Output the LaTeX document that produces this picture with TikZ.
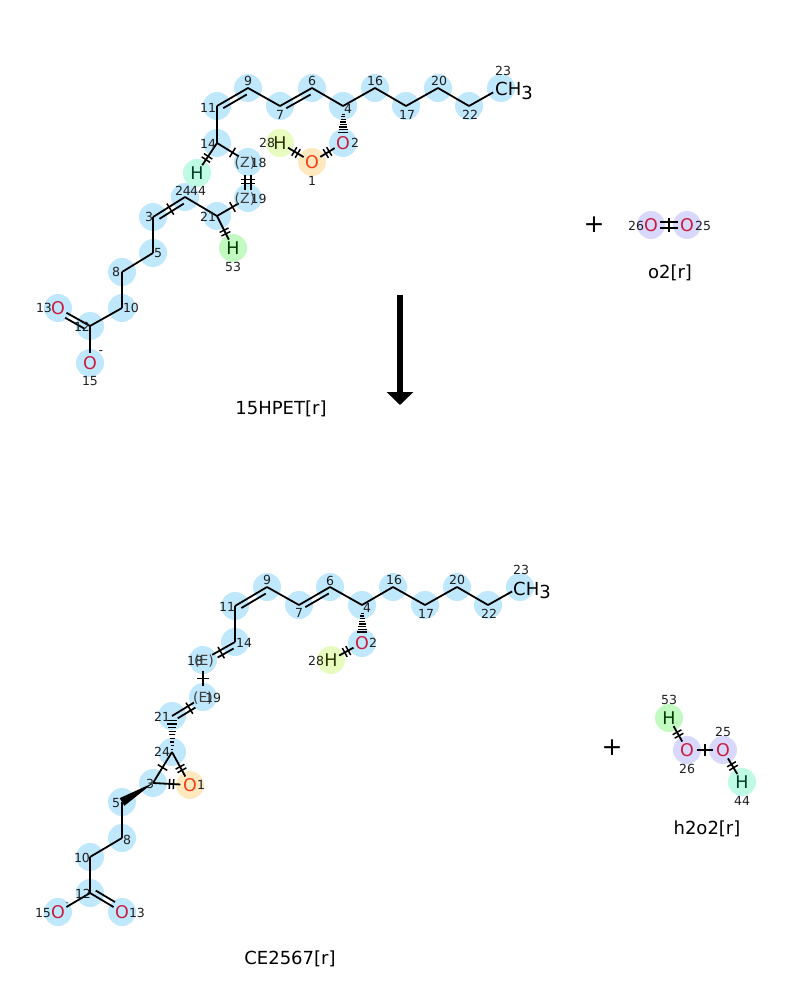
\documentclass[tikz,border=0pt]{standalone}
\usepackage{fontspec}
\setmainfont{DejaVu Sans}
\usetikzlibrary{calc,arrows.meta}
\pgfdeclarelayer{bg}
\pgfsetlayers{bg,main}
\definecolor{cb}{RGB}{192,232,252}
\definecolor{cor}{RGB}{253,232,192}
\definecolor{cyg}{RGB}{232,252,192}
\definecolor{cmint}{RGB}{190,250,228}
\definecolor{cgr}{RGB}{194,250,194}
\definecolor{clav}{RGB}{216,216,252}
\definecolor{tO}{RGB}{200,30,60}
\definecolor{tOo}{RGB}{250,60,20}
\definecolor{tHa}{RGB}{40,50,0}
\definecolor{tHb}{RGB}{0,60,40}
\definecolor{tHc}{RGB}{0,60,0}
\tikzset{
  bond/.style={line width=1.8pt, draw=black},
  tickl/.style={line width=1.5pt, draw=black},
  hashl/.style={line width=1.2pt, draw=black},
  num/.style={font=\fontsize{12.5}{12.5}\selectfont, inner sep=0pt, text=black!88},
  stereo/.style={font=\fontsize{14}{14}\selectfont, inner sep=0pt, text=black!75},
  het/.style={circle, inner sep=0pt, minimum size=16pt, font=\fontsize{17.5}{17.5}\selectfont},
  slot/.style={circle, inner sep=0pt, minimum size=21pt},
  ttl/.style={font=\fontsize{18}{18}\selectfont, inner sep=0pt},
  plussign/.style={font=\fontsize{25}{25}\selectfont, inner sep=0pt},
  methyl/.style={font=\fontsize{18}{18}\selectfont, inner sep=0pt, anchor=base west},
}
% second line of a double bond: a, b, offset, from, to
\newcommand{\dline}[5]{\draw[bond] ($(#1.center)!#4!(#2.center)!#3!90:(#2.center)$) -- ($(#1.center)!#5!(#2.center)!#3!90:(#2.center)$);}
% single tick: a, b, frac, lo, hi
\newcommand{\tk}[5]{\draw[tickl] ($(#1.center)!#3!(#2.center)!#4!90:(#2.center)$) -- ($(#1.center)!#3!(#2.center)!#5!90:(#2.center)$);}
% double tick
\newcommand{\tkk}[5]{%
  \draw[tickl] ($(#1.center)!#3!(#2.center)!2pt!(#2.center)!#4!90:(#2.center)$) -- ($(#1.center)!#3!(#2.center)!2pt!(#2.center)!#5!90:(#2.center)$);
  \draw[tickl] ($(#1.center)!#3!(#2.center)!-2pt!(#2.center)!#4!90:(#2.center)$) -- ($(#1.center)!#3!(#2.center)!-2pt!(#2.center)!#5!90:(#2.center)$);}
% hashed wedge, narrow at a, wide at b
\newcommand{\hashshort}[2]{\foreach \t/\w in {0.22/1.5pt,0.29/2pt,0.36/2.5pt,0.43/3pt,0.50/3.5pt,0.57/4pt,0.64/4.5pt,0.71/5pt}{\draw[hashl] ($(#1.center)!\t!(#2.center)!\w!90:(#2.center)$) -- ($(#1.center)!\t!(#2.center)!\w!-90:(#2.center)$);}}
\newcommand{\hashlong}[2]{\foreach \t/\w in {0.08/1pt,0.18/1.5pt,0.28/2pt,0.38/2.5pt,0.48/3pt,0.58/3.5pt,0.68/4pt,0.78/4.6pt,0.88/5.2pt}{\draw[hashl] ($(#1.center)!\t!(#2.center)!\w!90:(#2.center)$) -- ($(#1.center)!\t!(#2.center)!\w!-90:(#2.center)$);}}
\newcommand{\lab}[3]{\node[num] (#1) at (#2) {#3};}
\begin{document}
\begin{tikzpicture}[x=1pt,y=-1pt]
\useasboundingbox (0,0) rectangle (800,1000);
% ================= TOP MOLECULE (15HPET) =================
\coordinate (t3) at (153,217);
\coordinate (t4) at (343,106);
\coordinate (t5) at (153,253);
\coordinate (t6) at (312,88);
\coordinate (t7) at (280,106);
\coordinate (t8) at (122,272);
\coordinate (t9) at (248,88);
\coordinate (t10) at (122,308);
\coordinate (t11) at (217,106);
\coordinate (t12) at (90,326);
\coordinate (t14) at (217,143);
\coordinate (t16) at (375,88);
\coordinate (t17) at (406,106);
\coordinate (t20) at (438,88);
\coordinate (t21) at (217,216);
\coordinate (t22) at (469,106);
\coordinate (t23) at (501,88);
\coordinate (t24) at (185,197);
\node[het,text=tOo] (t1) at (312,162) {O};
\node[het,text=tO] (t2) at (343,143) {O};
\node[het,text=tO] (t13) at (58,308) {O};
\node[het,text=tO] (t15) at (90,363) {O};
\node[het,text=tHa] (t28) at (280,143) {H};
\node[het,text=tHb] (t44) at (197,173) {H};
\node[het,text=tHc] (t53) at (233,248) {H};
\node[slot] (t18) at (248,162) {};
\node[slot] (t19) at (248,198) {};
\node[methyl] (t23t) at (495,96) {CH\raisebox{-3.5pt}{3}};
% bonds
\draw[bond] (t11) -- (t9);
\dline{t11}{t9}{-5pt}{0.12}{0.88}
\draw[bond] (t9) -- (t7);
\draw[bond] (t7) -- (t6);
\dline{t7}{t6}{-5pt}{0.12}{0.88}
\draw[bond] (t6) -- (t4);
\draw[bond] (t4) -- (t16);
\draw[bond] (t16) -- (t17);
\draw[bond] (t17) -- (t20);
\draw[bond] (t20) -- (t22);
\draw[bond, shorten >=9pt] (t22) -- (t23);
\draw[bond] (t11) -- (t14);
\draw[bond] (t14) -- (t44);
\tkk{t14}{t44}{0.5}{-5pt}{5pt}
\draw[bond] (t14) -- (t18);
\tk{t14}{t18}{0.5}{-5.5pt}{5.5pt}
\dline{t18}{t19}{2.8pt}{0.35}{0.77}
\dline{t18}{t19}{-2.8pt}{0.35}{0.77}
\tkk{t18}{t19}{0.54}{-7pt}{7pt}
\draw[bond] (t19) -- (t21);
\tk{t19}{t21}{0.5}{-5.5pt}{5.5pt}
\draw[bond] (t21) -- (t53);
\tkk{t21}{t53}{0.5}{-5pt}{5pt}
\draw[bond] (t21) -- (t24);
\draw[bond] (t24) -- (t3);
\dline{t24}{t3}{5pt}{0.12}{0.88}
\tk{t24}{t3}{0.5}{-4pt}{9pt}
\draw[bond] (t3) -- (t5);
\draw[bond] (t5) -- (t8);
\draw[bond] (t8) -- (t10);
\draw[bond] (t10) -- (t12);
\draw[bond] (t12) -- (t13);
\dline{t12}{t13}{5pt}{0.1}{0.7}
\draw[bond] (t12) -- (t15);
\hashshort{t4}{t2}
\draw[bond] (t2) -- (t1);
\tkk{t2}{t1}{0.5}{-5pt}{5pt}
\draw[bond] (t28) -- (t1);
\tkk{t28}{t1}{0.5}{-5pt}{5pt}
% labels
\lab{lt9}{248,81}{9}
\lab{lt11}{208,108}{11}
\lab{lt7}{280,115}{7}
\lab{lt6}{312,81}{6}
\lab{lt4}{348,109}{4}
\lab{lt16}{375,81}{16}
\lab{lt17}{407,115}{17}
\lab{lt20}{439,81}{20}
\lab{lt22}{470,115}{22}
\lab{lt23}{503,71}{23}
\lab{lt14}{208,144}{14}
\lab{lt18}{258.5,163}{18}
\node[stereo] (zt18) at (245,163) {(Z)};
\lab{lt19}{258.5,199}{19}
\node[stereo] (zt19) at (245,199) {(Z)};
\lab{lt24}{183,191}{24}
\lab{lt44}{198,191}{44}
\lab{lt21}{208,217}{21}
\lab{lt3}{149,217}{3}
\lab{lt5}{158,253}{5}
\lab{lt8}{116,272}{8}
\lab{lt10}{131,308}{10}
\lab{lt12}{82,327}{12}
\lab{lt13}{44,308}{13}
\lab{lt15}{90,381}{15}
\lab{qt15}{101,353}{-}
\lab{lt53}{233,267}{53}
\lab{lt28}{267,143}{28}
\lab{lt1}{312,181}{1}
\lab{lt2}{355,143}{2}
% ================= O2 =================
\node[plussign] (plus1) at (594,225) {+};
\node[het,text=tO] (o26) at (651,225) {O};
\node[het,text=tO] (o25) at (687,225) {O};
\dline{o26}{o25}{3pt}{0.25}{0.75}
\dline{o26}{o25}{-3pt}{0.25}{0.75}
\tk{o26}{o25}{0.5}{-7pt}{7pt}
\lab{lo26}{636,226}{26}
\lab{lo25}{703,226}{25}
\node[ttl] (name2) at (670,273) {o2[r]};
% ================= ARROW =================
\coordinate (arS) at (400,295);
\coordinate (arE) at (400,405);
\draw[line width=6pt, -{Triangle[width=26pt,length=13pt]}] (arS) -- (arE);
\node[ttl] (name1) at (281,409) {15HPET[r]};
% ================= BOTTOM MOLECULE (CE2567) =================
\coordinate (b3) at (153,783);
\coordinate (b4) at (362,605);
\coordinate (b5) at (122,802);
\coordinate (b6) at (330,587);
\coordinate (b7) at (299,605);
\coordinate (b8) at (122,838);
\coordinate (b9) at (267,587);
\coordinate (b10) at (90,857);
\coordinate (b11) at (235,606);
\coordinate (b12) at (90,893);
\coordinate (b14) at (235,642);
\coordinate (b16) at (393,587);
\coordinate (b17) at (425,605);
\coordinate (b20) at (457,587);
\coordinate (b21) at (172,716);
\coordinate (b22) at (488,605);
\coordinate (b23) at (520,587);
\coordinate (b24) at (172,752);
\node[het,text=tOo] (b1) at (190,785) {O};
\node[het,text=tO] (b2) at (362,643) {O};
\node[het,text=tO] (b13) at (122,912) {O};
\node[het,text=tO] (b15) at (58,912) {O};
\node[het,text=tHa] (b28) at (331,660) {H};
\node[slot] (b18) at (203,660) {};
\node[slot] (b19) at (203,697) {};
\node[methyl] (b23t) at (513,595) {CH\raisebox{-3.5pt}{3}};
\draw[bond] (b11) -- (b9);
\dline{b11}{b9}{-5pt}{0.12}{0.88}
\draw[bond] (b9) -- (b7);
\draw[bond] (b7) -- (b6);
\dline{b7}{b6}{-5pt}{0.12}{0.88}
\draw[bond] (b6) -- (b4);
\draw[bond] (b4) -- (b16);
\draw[bond] (b16) -- (b17);
\draw[bond] (b17) -- (b20);
\draw[bond] (b20) -- (b22);
\draw[bond, shorten >=9pt] (b22) -- (b23);
\draw[bond] (b11) -- (b14);
\draw[bond] (b14) -- (b18);
\dline{b14}{b18}{5pt}{0.12}{0.62}
\tk{b14}{b18}{0.47}{-4pt}{9pt}
\draw[bond] (b18) -- (b19);
\tk{b18}{b19}{0.5}{-6pt}{6pt}
\draw[bond] (b19) -- (b21);
\dline{b19}{b21}{5pt}{0.33}{0.9}
\tk{b19}{b21}{0.48}{-4pt}{9pt}
\hashlong{b24}{b21}
\draw[bond] (b24) -- (b3);
\tk{b24}{b3}{0.5}{-5.5pt}{5.5pt}
\draw[bond] (b24) -- (b1);
\tkk{b24}{b1}{0.5}{-5pt}{5pt}
\draw[bond] (b3) -- (b1);
\tkk{b3}{b1}{0.5}{-5pt}{5pt}
\fill (b3.center) -- ($(b5.center)!4.5pt!90:(b3.center)$) -- ($(b5.center)!4.5pt!-90:(b3.center)$) -- cycle;
\draw[bond] (b5) -- (b8);
\draw[bond] (b8) -- (b10);
\draw[bond] (b10) -- (b12);
\draw[bond] (b12) -- (b13);
\dline{b12}{b13}{5pt}{0.1}{0.7}
\draw[bond] (b12) -- (b15);
\hashshort{b4}{b2}
\draw[bond] (b2) -- (b28);
\tkk{b2}{b28}{0.5}{-5pt}{5pt}
% labels
\lab{lb9}{267,580}{9}
\lab{lb11}{227,607}{11}
\lab{lb7}{299,613}{7}
\lab{lb6}{330,581}{6}
\lab{lb4}{367,608}{4}
\lab{lb16}{394,580}{16}
\lab{lb17}{426,614}{17}
\lab{lb20}{457,580}{20}
\lab{lb22}{489,614}{22}
\lab{lb23}{521,570}{23}
\lab{lb2}{373,643}{2}
\lab{lb28}{316,661}{28}
\lab{lb14}{244,643}{14}
\lab{lb18}{195,661}{18}
\node[stereo] (eb18) at (204,661) {(E)};
\node[stereo] (eb19) at (203,698) {(E)};
\lab{lb19}{213,698}{19}
\lab{lb21}{162,717}{21}
\lab{lb24}{162,752}{24}
\lab{lb3}{150,784}{3}
\lab{lb1}{201,785}{1}
\lab{lb5}{116,803}{5}
\lab{lb8}{127,840}{8}
\lab{lb10}{82,858}{10}
\lab{lb12}{83,894}{12}
\lab{lb15}{43,913}{15}
\node[num, font=\fontsize{8}{8}\selectfont] (qb15) at (67,904) {-};
\lab{lb13}{137,913}{13}
\node[ttl] (name3) at (290,959) {CE2567[r]};
% ================= H2O2 =================
\node[plussign] (plus2) at (612,748) {+};
\node[het,text=tHc] (h53) at (669,718) {H};
\node[het,text=tO] (h26) at (687,750) {O};
\node[het,text=tO] (h25) at (723,750) {O};
\node[het,text=tHb] (h44) at (742,782) {H};
\draw[bond] (h53) -- (h26);
\tkk{h53}{h26}{0.5}{-5pt}{5pt}
\draw[bond] (h26) -- (h25);
\tk{h26}{h25}{0.5}{-6pt}{6pt}
\draw[bond] (h25) -- (h44);
\tkk{h25}{h44}{0.5}{-5pt}{5pt}
\lab{lh53}{669,700}{53}
\lab{lh26}{687,769}{26}
\lab{lh25}{723,732}{25}
\lab{lh44}{742,801}{44}
\node[ttl] (name4) at (707,829) {h2o2[r]};
% ================= HIGHLIGHT CIRCLES =================
\begin{pgfonlayer}{bg}
\foreach \p/\c in {t3/cb,t4/cb,t5/cb,t6/cb,t7/cb,t8/cb,t9/cb,t10/cb,t11/cb,t12/cb,t13/cb,t14/cb,t15/cb,t16/cb,t17/cb,t18/cb,t19/cb,t20/cb,t21/cb,t22/cb,t23/cb,t24/cb,t2/cb,t1/cor,t28/cyg,t44/cmint,t53/cgr,o26/clav,o25/clav,
  b3/cb,b4/cb,b5/cb,b6/cb,b7/cb,b8/cb,b9/cb,b10/cb,b11/cb,b12/cb,b13/cb,b14/cb,b15/cb,b16/cb,b17/cb,b18/cb,b19/cb,b20/cb,b21/cb,b22/cb,b23/cb,b24/cb,b2/cb,b1/cor,b28/cyg,
  h53/cgr,h26/clav,h25/clav,h44/cmint}
  {\fill[\c] (\p.center) circle[radius=14pt];}
\end{pgfonlayer}
\end{tikzpicture}
\end{document}
